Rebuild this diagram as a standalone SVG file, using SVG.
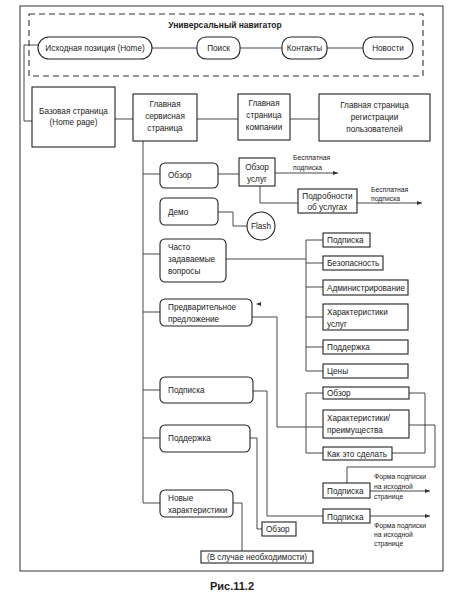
<svg xmlns="http://www.w3.org/2000/svg" width="452" height="599" viewBox="0 0 452 599">
<defs>
<style>
.bx{fill:#fff;stroke:#222;stroke-width:1.1}
.ln{fill:none;stroke:#333;stroke-width:0.9}
.t{font-family:"Liberation Sans",Arial,sans-serif;font-size:8.2px;fill:#222}
.c{text-anchor:middle}
.s{font-family:"Liberation Sans",Arial,sans-serif;font-size:6.8px;fill:#222}
.b{font-weight:bold}
</style>
<marker id="ar" markerWidth="6" markerHeight="4" refX="5" refY="2" orient="auto" markerUnits="userSpaceOnUse">
<path d="M0,0 L5,2 L0,4 Z" fill="#333"/>
</marker>
</defs>
<rect width="452" height="599" fill="#fff"/>
<rect x="20" y="6" width="423" height="565" fill="none" stroke="#333" stroke-width="1"/>
<g id="navigator">
<rect x="29" y="14" width="394" height="62" fill="none" stroke="#333" stroke-width="1.1" stroke-dasharray="6 4"/>
<text class="t c b" x="225" y="28" style="font-size:8.5px">Универсальный навигатор</text>
</g>
<g id="connectors">
<path class="ln" d="M152,48 H197 M240,48 H282 M327,48 H363"/>
<path class="ln" d="M38,45 H24 V121 H32"/>
<path class="ln" d="M115,119 H133 M197,119 H238 M290,119 H319"/>
<path class="ln" d="M143,141 V503 M143,174 H160 M143,254 H160 M143,312 H160 M143,390 H160 M143,438 H160 M143,503 H160"/>
<path class="ln" d="M218,174 H239"/>
<path class="ln" d="M275,173 H338" marker-end="url(#ar)"/>
<path class="ln" d="M260,186 V203 H298"/>
<path class="ln" d="M357,203 H422" marker-end="url(#ar)"/>
<path class="ln" d="M218,212 H233 V226 H247"/>
<path class="ln" d="M226,259 H306 M323,240 H306 V371 H323 M306,263 H323 M306,287 H323 M306,317 H323 M306,347 H323"/>
<path class="ln" d="M252,317 H277 V427 H323 M323,393 H306 V453 H323"/>
<path d="M256,304 L261,302 L261,306 Z" fill="#333"/>
<path class="ln" d="M409,393 H425 V453 H392"/>
<path class="ln" d="M409,425 H435 V467 H347 V483"/>
<path class="ln" d="M253,391 H267 V516 H323"/>
<path class="ln" d="M370,491 H430" marker-end="url(#ar)"/>
<path class="ln" d="M370,516 H430" marker-end="url(#ar)"/>
<path class="ln" d="M250,438 H257 V529 H262"/>
<path class="ln" d="M233,503 H242 V551"/>
</g>
<g id="home"><rect class="bx" x="38" y="37" width="114" height="22" rx="11"/><text class="t c" x="95" y="51">Исходная позиция (Home)</text></g>
<g id="search"><rect class="bx" x="197" y="37" width="43" height="22" rx="9"/><text class="t c" x="218.5" y="51">Поиск</text></g>
<g id="contacts"><rect class="bx" x="282" y="37" width="45" height="22" rx="9"/><text class="t c" x="304.5" y="51">Контакты</text></g>
<g id="news"><rect class="bx" x="363" y="37" width="50" height="22" rx="10"/><text class="t c" x="388" y="51">Новости</text></g>
<g id="base"><rect class="bx" x="32" y="87" width="83" height="60"/><text class="t c" x="73.5" y="114">Базовая страница</text><text class="t c" x="73.5" y="125">(Home page)</text></g>
<g id="service"><rect class="bx" x="133" y="94" width="64" height="47"/><text class="t c" x="165" y="107">Главная</text><text class="t c" x="165" y="119">сервисная</text><text class="t c" x="165" y="131">страница</text></g>
<g id="company"><rect class="bx" x="238" y="94" width="52" height="46"/><text class="t c" x="264" y="106">Главная</text><text class="t c" x="264" y="118">страница</text><text class="t c" x="264" y="130">компании</text></g>
<g id="registration"><rect class="bx" x="319" y="94" width="111" height="47"/><text class="t c" x="374.5" y="108">Главная страница</text><text class="t c" x="374.5" y="120">регистрации</text><text class="t c" x="374.5" y="132">пользователей</text></g>
<g id="overview"><rect class="bx" x="160" y="163" width="58" height="25" rx="5"/><text class="t" x="168" y="178">Обзор</text></g>
<g id="services-overview"><rect class="bx" x="239" y="158" width="36" height="28"/><text class="t c" x="257" y="170">Обзор</text><text class="t c" x="257" y="182">услуг</text></g>
<g id="free1"><text class="s" x="293" y="160">Бесплатная</text><text class="s" x="293" y="170">подписка</text></g>
<g id="details"><rect class="bx" x="298" y="189" width="59" height="24"/><text class="t c" x="327.5" y="199">Подробности</text><text class="t c" x="327.5" y="210">об услугах</text></g>
<g id="free2"><text class="s" x="371" y="192">Бесплатная</text><text class="s" x="371" y="201">подписка</text></g>
<g id="demo"><rect class="bx" x="160" y="198" width="58" height="27" rx="5"/><text class="t" x="168" y="215">Демо</text></g>
<g id="flash"><circle class="bx" cx="261" cy="226" r="14"/><text class="t c" x="261" y="229">Flash</text></g>
<g id="faq"><rect class="bx" x="160" y="239" width="66" height="43" rx="5"/><text class="t" x="168" y="250">Часто</text><text class="t" x="168" y="262">задаваемые</text><text class="t" x="168" y="274">вопросы</text></g>
<g id="faq-sub"><rect class="bx" x="323" y="233" width="47" height="14"/><text class="t" x="327" y="243">Подписка</text></g>
<g id="faq-sec"><rect class="bx" x="323" y="256" width="60" height="14"/><text class="t" x="327" y="266">Безопасность</text></g>
<g id="faq-admin"><rect class="bx" x="323" y="280" width="85" height="15"/><text class="t" x="327" y="290.5">Администрирование</text></g>
<g id="faq-char"><rect class="bx" x="323" y="304" width="85" height="26"/><text class="t" x="327" y="315">Характеристики</text><text class="t" x="327" y="327">услуг</text></g>
<g id="faq-support"><rect class="bx" x="323" y="340" width="85" height="14"/><text class="t" x="327" y="350">Поддержка</text></g>
<g id="faq-prices"><rect class="bx" x="323" y="364" width="85" height="14"/><text class="t" x="327" y="374">Цены</text></g>
<g id="preliminary"><rect class="bx" x="160" y="299" width="92" height="27" rx="5"/><text class="t" x="168" y="310">Предварительное</text><text class="t" x="168" y="322">предложение</text></g>
<g id="pre-overview"><rect class="bx" x="323" y="387" width="86" height="12"/><text class="t" x="327" y="396">Обзор</text></g>
<g id="pre-char"><rect class="bx" x="323" y="410" width="86" height="28"/><text class="t" x="327" y="421">Характеристики/</text><text class="t" x="327" y="433">преимущества</text></g>
<g id="pre-how"><rect class="bx" x="323" y="447" width="69" height="13"/><text class="t" x="327" y="456.5">Как это сделать</text></g>
<g id="subscription"><rect class="bx" x="160" y="377" width="93" height="26" rx="5"/><text class="t" x="168" y="393">Подписка</text></g>
<g id="sub-upper"><rect class="bx" x="323" y="483" width="47" height="15"/><text class="t" x="327" y="494">Подписка</text></g>
<g id="form1"><text class="s" x="374" y="479">Форма подписки</text><text class="s" x="374" y="489">на исходной</text><text class="s" x="374" y="499">странице</text></g>
<g id="sub-lower"><rect class="bx" x="323" y="509" width="47" height="14"/><text class="t" x="327" y="519.5">Подписка</text></g>
<g id="form2"><text class="s" x="374" y="528">Форма подписки</text><text class="s" x="374" y="537">на исходной</text><text class="s" x="374" y="546">странице</text></g>
<g id="support"><rect class="bx" x="160" y="425" width="90" height="27" rx="5"/><text class="t" x="168" y="441">Поддержка</text></g>
<g id="support-overview"><rect class="bx" x="262" y="522" width="34" height="14"/><text class="t" x="266" y="532">Обзор</text></g>
<g id="new-features"><rect class="bx" x="160" y="490" width="73" height="27" rx="5"/><text class="t" x="168" y="501">Новые</text><text class="t" x="168" y="513">характеристики</text></g>
<g id="if-needed"><rect class="bx" x="201" y="551" width="112" height="12"/><text class="t c" x="257" y="560">(В случае необходимости)</text></g>
<text class="t b c" x="232" y="590" style="font-size:11px">Рис.11.2</text>
</svg>
